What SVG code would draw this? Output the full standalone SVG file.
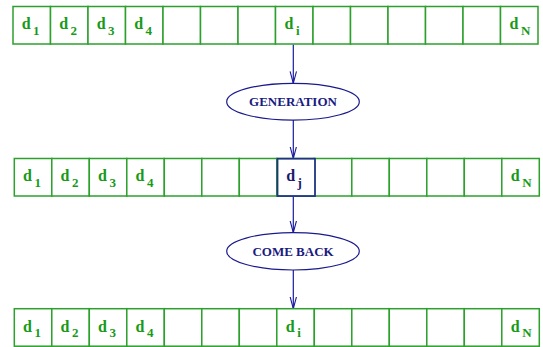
<svg xmlns="http://www.w3.org/2000/svg" width="543" height="347" viewBox="0 0 543 347">
<style>
.cell{fill:#fff;stroke:#2ca02c;stroke-width:1.5}
.t{font-family:"Liberation Serif",serif;font-weight:bold;font-size:16px;fill:#179a17}
.s{font-size:13px}
.el{fill:#fff;stroke:#1a1a8c;stroke-width:1.2}
.lab{font-family:"Liberation Serif",serif;font-weight:bold;font-size:13px;fill:#1a1a80;text-anchor:middle}
.conn{stroke:#1a1a9c;stroke-width:1.2;fill:none;marker-end:url(#ah)}
.hl{fill:#fff;stroke:#1f3580;stroke-width:1.8}
.tj{fill:#1a1a6e}
</style>
<defs>
<marker id="ah" viewBox="0 0 12 8" refX="12" refY="4" markerWidth="12" markerHeight="8" markerUnits="userSpaceOnUse" orient="auto">
<path d="M0,0.8 L12,4 L0,7.2" fill="none" stroke="#1a1a9c" stroke-width="1.1"/>
</marker>
<g id="cells">
<rect class="cell" x="0" y="0" width="37.5" height="37.5"/><rect class="cell" x="37.5" y="0" width="37.5" height="37.5"/><rect class="cell" x="75" y="0" width="37.5" height="37.5"/><rect class="cell" x="112.5" y="0" width="37.5" height="37.5"/><rect class="cell" x="150" y="0" width="37.5" height="37.5"/><rect class="cell" x="187.5" y="0" width="37.5" height="37.5"/><rect class="cell" x="225" y="0" width="37.5" height="37.5"/><rect class="cell" x="262.5" y="0" width="37.5" height="37.5"/><rect class="cell" x="300" y="0" width="37.5" height="37.5"/><rect class="cell" x="337.5" y="0" width="37.5" height="37.5"/><rect class="cell" x="375" y="0" width="37.5" height="37.5"/><rect class="cell" x="412.5" y="0" width="37.5" height="37.5"/><rect class="cell" x="450" y="0" width="37.5" height="37.5"/><rect class="cell" x="487.5" y="0" width="37.5" height="37.5"/>
</g>
</defs>
<g id="connectors">
<line class="conn" x1="293.3" y1="44.5" x2="293.3" y2="83.3"/>
<line class="conn" x1="293.3" y1="120" x2="293.3" y2="158.5"/>
<line class="conn" x1="293.3" y1="196.5" x2="293.3" y2="232.7"/>
<line class="conn" x1="293.3" y1="270" x2="293.3" y2="308.7"/>
</g>
<g id="row1" transform="translate(13 6.5)">
<use href="#cells"/>
<text class="t" x="8.7" y="22.8">d<tspan class="s" dx="2.5" dy="5.7">1</tspan></text>
<text class="t" x="46.2" y="22.8">d<tspan class="s" dx="2.5" dy="5.7">2</tspan></text>
<text class="t" x="83.7" y="22.8">d<tspan class="s" dx="2.5" dy="5.7">3</tspan></text>
<text class="t" x="121.2" y="22.8">d<tspan class="s" dx="2.5" dy="5.7">4</tspan></text>
<text class="t" x="271.5" y="22.8">d<tspan class="s" dx="2.5" dy="5.7">i</tspan></text>
<text class="t" x="496.5" y="22.8">d<tspan class="s" dx="2.5" dy="5.7">N</tspan></text>
</g>
<g id="generation">
<ellipse class="el" cx="293" cy="101.7" rx="66.3" ry="18.4"/>
<text class="lab" x="293" y="105.7">GENERATION</text>
</g>
<g id="row2" transform="translate(14.3 158.5)">
<use href="#cells"/>
<text class="t" x="8.7" y="22.8">d<tspan class="s" dx="2.5" dy="5.7">1</tspan></text>
<text class="t" x="46.2" y="22.8">d<tspan class="s" dx="2.5" dy="5.7">2</tspan></text>
<text class="t" x="83.7" y="22.8">d<tspan class="s" dx="2.5" dy="5.7">3</tspan></text>
<text class="t" x="121.2" y="22.8">d<tspan class="s" dx="2.5" dy="5.7">4</tspan></text>
<text class="t" x="496.5" y="22.8">d<tspan class="s" dx="2.5" dy="5.7">N</tspan></text>
</g>
<g id="dj">
<rect class="hl" x="277.5" y="158.7" width="37.5" height="37.3"/>
<text class="t tj" x="286.2" y="181.3">d<tspan class="s" dx="2.5" dy="5.7">j</tspan></text>
</g>
<g id="comeback">
<ellipse class="el" cx="293" cy="251.3" rx="66.3" ry="18.7"/>
<text class="lab" x="293" y="255.7">COME BACK</text>
</g>
<g id="row3" transform="translate(14.3 308.7)">
<use href="#cells"/>
<text class="t" x="8.7" y="23">d<tspan class="s" dx="2.5" dy="5.7">1</tspan></text>
<text class="t" x="46.2" y="23">d<tspan class="s" dx="2.5" dy="5.7">2</tspan></text>
<text class="t" x="83.7" y="23">d<tspan class="s" dx="2.5" dy="5.7">3</tspan></text>
<text class="t" x="121.2" y="23">d<tspan class="s" dx="2.5" dy="5.7">4</tspan></text>
<text class="t" x="271.5" y="23">d<tspan class="s" dx="2.5" dy="5.7">i</tspan></text>
<text class="t" x="496.5" y="23">d<tspan class="s" dx="2.5" dy="5.7">N</tspan></text>
</g>
</svg>
